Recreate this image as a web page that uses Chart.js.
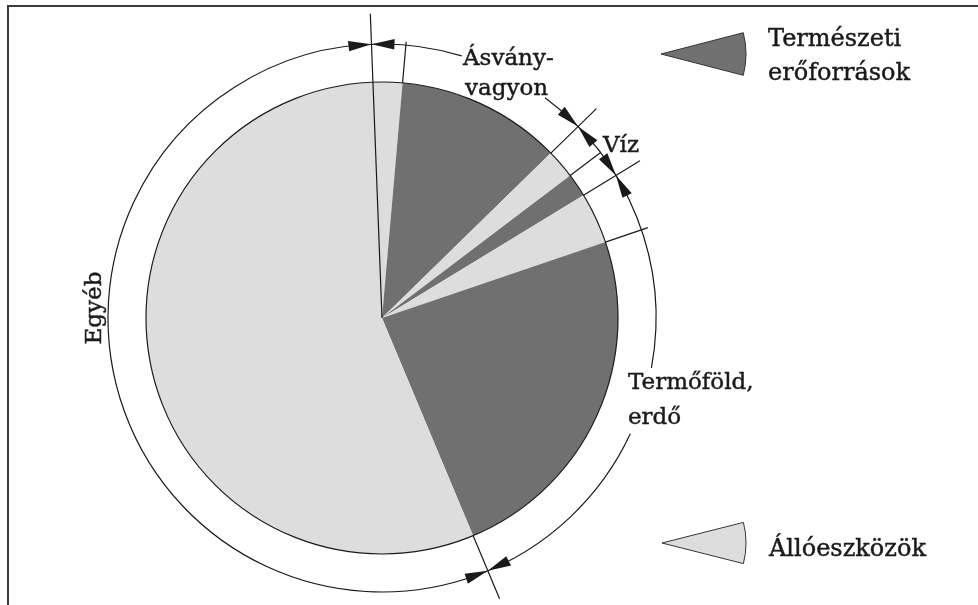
<!DOCTYPE html>
<html>
<head>
<meta charset="utf-8">
<script src="https://cdn.jsdelivr.net/npm/chart.js@4/dist/chart.umd.min.js"></script>
<style>
  html, body { margin: 0; padding: 0; background: #ffffff; }
  #wrap { width: 978px; height: 605px; position: relative; }
</style>
</head>
<body>
<div id="wrap"><canvas id="c" width="978" height="605"></canvas></div>
<script>
// ---- data (share of national wealth, %) ----
const sliceLabels = [
  'Ásványvagyon – állóeszközök',
  'Ásványvagyon – természeti erőforrások',
  'Víz – állóeszközök',
  'Víz – természeti erőforrások',
  'Termőföld, erdő – állóeszközök',
  'Termőföld, erdő – természeti erőforrások',
  'Egyéb – állóeszközök'
];
const sliceValues = [2.0, 11.3, 2.0, 1.6, 3.5, 23.9, 55.7];
const sliceKinds = ['allo', 'term', 'allo', 'term', 'allo', 'term', 'allo'];
const groupLabels = ['Ásványvagyon', 'Víz', 'Termőföld, erdő', 'Egyéb'];
const legendLabels = ['Természeti erőforrások', 'Állóeszközök'];

// ---- styles ----
const DARK = '#707070';
const LIGHT = '#dddddd';
const INK = '#1a1a1a';
const FONT = '23px "DejaVu Serif", "Liberation Serif", serif';
const LEGEND_FONT = '24px "DejaVu Serif", "Liberation Serif", serif';

const kindColor = k => (k === 'term' ? DARK : LIGHT);

const DEG = Math.PI / 180;

function arrowHead(ctx, cx, cy, r, tipAng, dir) {
  const L = 23, W = 5.2;
  const baseAng = tipAng + dir * (L / r);
  const tx = cx + r * Math.cos(tipAng), ty = cy + r * Math.sin(tipAng);
  const bx = cx + r * Math.cos(baseAng), by = cy + r * Math.sin(baseAng);
  const ux = Math.cos(baseAng), uy = Math.sin(baseAng);
  ctx.beginPath();
  ctx.moveTo(tx, ty);
  ctx.lineTo(bx + W * ux, by + W * uy);
  ctx.lineTo(bx - W * ux, by - W * uy);
  ctx.closePath();
  ctx.fill();
}

function wedge(ctx, x, y, r, half, fill) {
  ctx.beginPath();
  ctx.moveTo(x, y);
  ctx.arc(x, y, r, -half, half);
  ctx.closePath();
  ctx.fillStyle = fill;
  ctx.fill();
  ctx.lineWidth = 1;
  ctx.strokeStyle = '#333';
  ctx.stroke();
}

function text(ctx, s, x, y) {
  ctx.fillText(s, x, y);
  ctx.strokeText(s, x, y);
}

const decor = {
  id: 'decor',
  beforeDraw(chart) {
    const ctx = chart.ctx;
    ctx.save();
    ctx.strokeStyle = '#3a3a3a';
    ctx.lineWidth = 2;
    ctx.beginPath();
    ctx.moveTo(8, 605);
    ctx.lineTo(8, 6);
    ctx.lineTo(978, 6);
    ctx.stroke();
    ctx.restore();
  },
  afterDatasetsDraw(chart) {
    const ctx = chart.ctx;
    const meta = chart.getDatasetMeta(0);
    const arcs = meta.data;
    const cx = arcs[0].x, cy = arcs[0].y, R = arcs[0].outerRadius;
    ctx.save();
    ctx.strokeStyle = INK;
    ctx.fillStyle = INK;
    ctx.lineWidth = 1.2;

    // pie outline
    ctx.beginPath();
    ctx.arc(cx, cy, R, 0, Math.PI * 2);
    ctx.stroke();

    // slice boundaries (start of each slice)
    const bounds = arcs.map(a => a.startAngle);
    const inner = [0, 1, 1, 1, 1, 1, 1];
    const outer = [1.29, 1.175, 1.27, 1.16, 1.28, 1.19, 1.29];
    bounds.forEach((ang, i) => {
      ctx.beginPath();
      ctx.moveTo(cx + R * inner[i] * Math.cos(ang), cy + R * inner[i] * Math.sin(ang));
      ctx.lineTo(cx + R * outer[i] * Math.cos(ang), cy + R * outer[i] * Math.sin(ang));
      ctx.stroke();
    });

    // dimension ring with gaps for labels (angles clockwise from 12 o'clock)
    const Rr = R * 1.161;
    const gaps = [[16.9, 36.5], [100.5, 115]];
    const top = -90 * DEG;
    let from = 0;
    const segs = [];
    gaps.forEach(g => { segs.push([from, g[0]]); from = g[1]; });
    segs.push([from, 360]);
    segs.forEach(s => {
      ctx.beginPath();
      ctx.arc(cx, cy, Rr, top + s[0] * DEG, top + s[1] * DEG);
      ctx.stroke();
    });

    // dimension arrows at group boundaries
    [0, 2, 4, 6].forEach(i => {
      const ang = bounds[i];
      arrowHead(ctx, cx, cy, Rr, ang, 1);
      arrowHead(ctx, cx, cy, Rr, ang, -1);
    });

    // group labels
    ctx.font = FONT;
    ctx.textBaseline = 'alphabetic';
    ctx.textAlign = 'left';
    ctx.fillStyle = INK;
    ctx.strokeStyle = INK;
    ctx.lineWidth = 0.45;
    text(ctx, 'Ásvány-', 463, 65);
    text(ctx, 'vagyon', 465, 95);
    text(ctx, groupLabels[1], 603, 152);
    text(ctx, 'Termőföld,', 628, 389);
    text(ctx, 'erdő', 628, 424);
    ctx.save();
    ctx.translate(101, 308);
    ctx.rotate(-Math.PI / 2);
    ctx.textAlign = 'center';
    text(ctx, groupLabels[3], 0, 0);
    ctx.restore();

    // legend
    wedge(ctx, 661, 54, 85, 14.5 * DEG, DARK);
    wedge(ctx, 662, 543, 84, 14.2 * DEG, LIGHT);
    ctx.font = LEGEND_FONT;
    ctx.fillStyle = INK;
    ctx.strokeStyle = INK;
    ctx.lineWidth = 0.45;
    text(ctx, 'Természeti', 768, 46);
    text(ctx, 'erőforrások', 768, 80);
    text(ctx, legendLabels[1], 769, 556);
    ctx.restore();
  }
};

new Chart(document.getElementById('c'), {
  type: 'pie',
  data: {
    labels: sliceLabels,
    datasets: [{
      data: sliceValues,
      backgroundColor: sliceKinds.map(kindColor),
      borderWidth: 0,
      hoverOffset: 0
    }]
  },
  options: {
    responsive: false,
    animation: false,
    events: [],
    rotation: -2.2,
    layout: { padding: { left: 146, right: 360, top: 82, bottom: 51 } },
    plugins: { legend: { display: false }, tooltip: { enabled: false } }
  },
  plugins: [decor]
});
</script>
</body>
</html>
